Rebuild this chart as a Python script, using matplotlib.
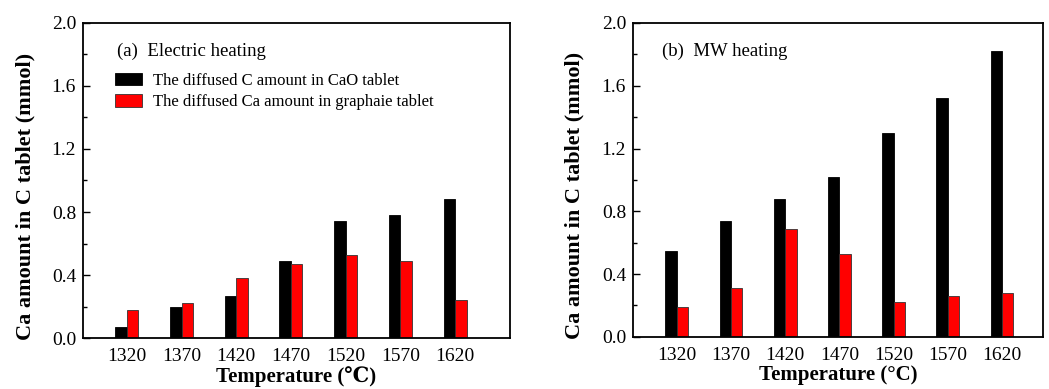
import matplotlib
matplotlib.use('Agg')
import matplotlib.pyplot as plt
import numpy as np
from matplotlib.ticker import MultipleLocator

plt.rcParams['font.family'] = ['Liberation Serif', 'DejaVu Serif']
plt.rcParams['mathtext.fontset'] = 'stix'

temps = ['1320', '1370', '1420', '1470', '1520', '1570', '1620']

# (a) electric heating
elec_c_in_cao = [0.07, 0.20, 0.27, 0.49, 0.74, 0.78, 0.88]
elec_ca_in_graph = [0.18, 0.22, 0.38, 0.47, 0.53, 0.49, 0.24]

# (b) MW heating
mw_c_in_cao = [0.55, 0.74, 0.88, 1.02, 1.30, 1.52, 1.82]
mw_ca_in_graph = [0.19, 0.31, 0.69, 0.53, 0.22, 0.26, 0.28]

fig = plt.figure(figsize=(10.49, 3.89), dpi=100)
ax1 = fig.add_axes([0.0791, 0.131, 0.407, 0.810])
ax2 = fig.add_axes([0.6034, 0.134, 0.391, 0.807])

x = np.arange(len(temps))
w = 0.21


def style(ax, xlabel, xlim, label_x):
    ax.set_ylim(0, 2.0)
    ax.set_xlim(*xlim)
    ax.yaxis.set_major_locator(MultipleLocator(0.4))
    ax.yaxis.set_minor_locator(MultipleLocator(0.2))
    ax.set_yticklabels([f'{v:.1f}' for v in ax.get_yticks()])
    ax.set_xticks(x)
    ax.set_xticklabels(temps)
    ax.tick_params(axis='y', which='major', direction='in', length=5, width=1, labelsize=14, pad=5)
    ax.tick_params(axis='y', which='minor', direction='in', length=3, width=1)
    ax.tick_params(axis='x', length=0, labelsize=14, pad=7)
    for s in ax.spines.values():
        s.set_linewidth(1.3)
    ax.set_ylabel('Ca amount in C tablet (mmol)', fontsize=16, fontweight='bold')
    ax.yaxis.set_label_coords(label_x, 0.45)
    ax.set_xlabel(xlabel, fontsize=15, fontweight='bold', labelpad=1)


ax1.bar(x - w / 2, elec_c_in_cao, w, color='black', edgecolor='black', lw=0.6,
        label='The diffused C amount in CaO tablet')
ax1.bar(x + w / 2, elec_ca_in_graph, w, color='red', edgecolor='#333333', lw=0.6,
        label='The diffused Ca amount in graphaie tablet')
style(ax1, 'Temperature (\u2103)', (-0.8, 7.0), -0.112)
ax1.text(0.08, 0.895, '(a)  Electric heating', transform=ax1.transAxes, fontsize=13.5)
ax1.legend(loc='upper left', bbox_to_anchor=(0.04, 0.89), frameon=False, fontsize=12,
           handlelength=1.6, handleheight=0.8, handletextpad=0.65, labelspacing=0.32)

ax2.bar(x - w / 2, mw_c_in_cao, w, color='black', edgecolor='black', lw=0.6)
ax2.bar(x + w / 2, mw_ca_in_graph, w, color='red', edgecolor='#333333', lw=0.6)
style(ax2, 'Temperature (\u00b0C)', (-0.81, 6.76), -0.118)
ax2.text(0.07, 0.895, '(b)  MW heating', transform=ax2.transAxes, fontsize=13.5)

fig.savefig('out.png', dpi=100)
